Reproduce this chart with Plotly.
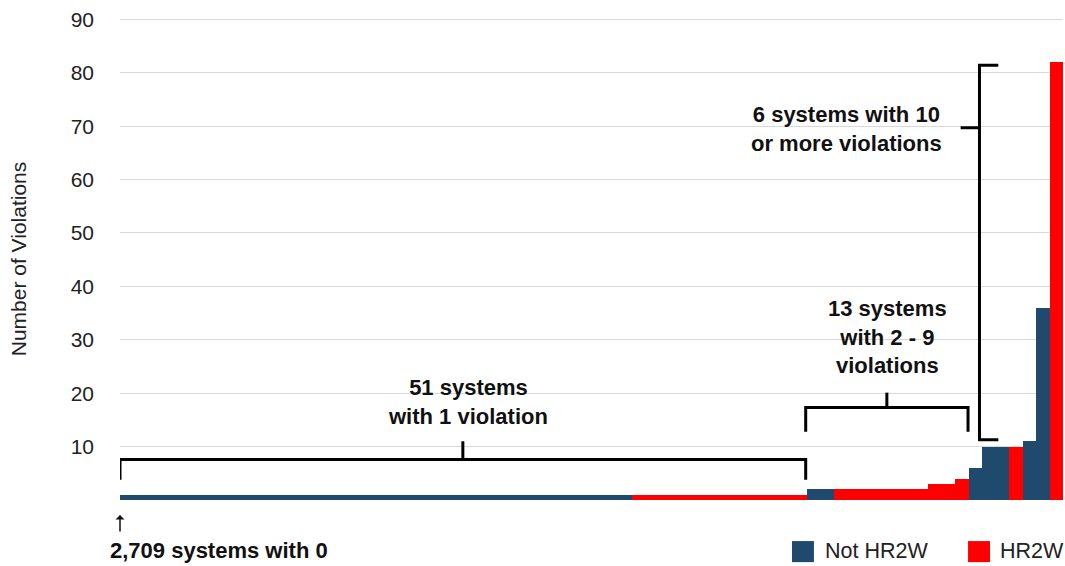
import plotly.graph_objects as go

# Systems sorted by number of violations, stored as runs of equal bars
run_values = [1, 1, 2, 2, 3, 4, 6, 10, 10, 11, 36, 82]
run_counts = [38, 13, 2, 7, 2, 1, 1, 2, 1, 1, 1, 1]
run_hr2w = [False, True, False, True, True, True, False, False, True, False, False, True]

y_ticks = [10, 20, 30, 40, 50, 60, 70, 80, 90]

BLUE = '#1F4A6E'
RED = '#FF0000'
FONT = 'Liberation Sans, Arial, sans-serif'

# expand runs into one bar per system
blue_x, blue_y, red_x, red_y = [], [], [], []
pos = 0
for v, n, h in zip(run_values, run_counts, run_hr2w):
    for _ in range(n):
        if h:
            red_x.append(pos)
            red_y.append(v)
        else:
            blue_x.append(pos)
            blue_y.append(v)
        pos += 1
n_systems = pos

fig = go.Figure()
fig.add_trace(go.Bar(x=blue_x, y=blue_y, width=1, marker=dict(color=BLUE, line=dict(width=0)),
                     name='Not HR2W', showlegend=False))
fig.add_trace(go.Bar(x=red_x, y=red_y, width=1, marker=dict(color=RED, line=dict(width=0)),
                     name='HR2W', showlegend=False))

line = dict(color='black', width=3)

def bracket_h(x0, x1, y, drop, rise):
    '''horizontal bracket, ends pointing down, middle tick up'''
    xm = (x0 + x1) / 2
    fig.add_shape(type='path', path=f'M {x0},{y - drop} L {x0},{y} L {x1},{y} L {x1},{y - drop}',
                  xref='x', yref='y', line=line)
    fig.add_shape(type='line', x0=xm, x1=xm, y0=y, y1=y + rise, xref='x', yref='y', line=line)

# 51 systems bracket
bracket_h(-0.5, 50.4, 7.6, 3.8, 3.4)
# 13 systems bracket
bracket_h(50.4, 62.45, 17.3, 4.5, 2.8)
# 6 systems bracket (vertical)
fig.add_shape(type='path', path='M 64.7,81.4 L 63.3,81.4 L 63.3,11.3 L 64.7,11.3',
              xref='x', yref='y', line=line)
fig.add_shape(type='line', x0=61.9, x1=63.3, y0=69.7, y1=69.7, xref='x', yref='y', line=line)

bold = dict(family=FONT, size=22, color='#111111')
fig.add_annotation(x=25.3, y=18.3, text='<b>51 systems<br>with 1 violation</b>', showarrow=False,
                   font=bold, xref='x', yref='y', yanchor='middle')
fig.add_annotation(x=56.5, y=30.5, text='<b>13 systems<br>with 2 - 9<br>violations</b>', showarrow=False,
                   font=bold, xref='x', yref='y', yanchor='middle')
fig.add_annotation(x=53.4, y=69.4, text='<b>6 systems with 10<br>or more violations</b>', showarrow=False,
                   font=bold, xref='x', yref='y', yanchor='middle')
# small arrow pointing at the zero systems
fig.add_annotation(x=0, y=-0.031, text='', showarrow=True, xref='paper', yref='paper',
                   ax=0, ay=18, arrowhead=1, arrowsize=1, arrowwidth=1.5, arrowcolor='#111111')
fig.add_annotation(x=-0.0127, y=-0.104, text='<b>2,709 systems with 0</b>', showarrow=False,
                   xref='paper', yref='paper', xanchor='left', yanchor='middle', font=bold)

# legend drawn by hand to get the large swatches
legend_items = [('Not HR2W', BLUE, 0.7126, 0.7455), ('HR2W', RED, 0.8993, 0.931)]
for label, color, sx, tx in legend_items:
    fig.add_shape(type='rect', xref='paper', yref='paper', x0=sx, x1=sx + 0.0233,
                  y0=-0.1289, y1=-0.0852, fillcolor=color, line=dict(width=0))
    fig.add_annotation(x=tx, y=-0.106, text=label, showarrow=False, xref='paper', yref='paper',
                       xanchor='left', yanchor='middle',
                       font=dict(family=FONT, size=21.5, color='#222222'))

fig.update_layout(
    width=1065, height=566,
    margin=dict(l=120, r=2, t=18, b=66),
    paper_bgcolor='white', plot_bgcolor='white',
    barmode='overlay', bargap=0,
    font=dict(family=FONT, size=21, color='#222222'),
    xaxis=dict(range=[-0.5, n_systems - 0.5], showticklabels=False, showgrid=False,
               zeroline=False, showline=False, ticks=''),
    yaxis=dict(range=[0, 90.25], tickvals=y_ticks, showgrid=True, gridcolor='#D9D9D9', gridwidth=1,
               zeroline=False, ticks='', ticklabelstandoff=25, ticklabeloverflow='allow',
               title=dict(text='Number of Violations', standoff=38, font=dict(size=21))),
    showlegend=False,
)

# drop the page margin so the figure sits at the window corner
fig.write_html("out.html", config={'displayModeBar': False},
               post_script="document.body.style.margin='0';document.body.style.overflow='hidden';")
